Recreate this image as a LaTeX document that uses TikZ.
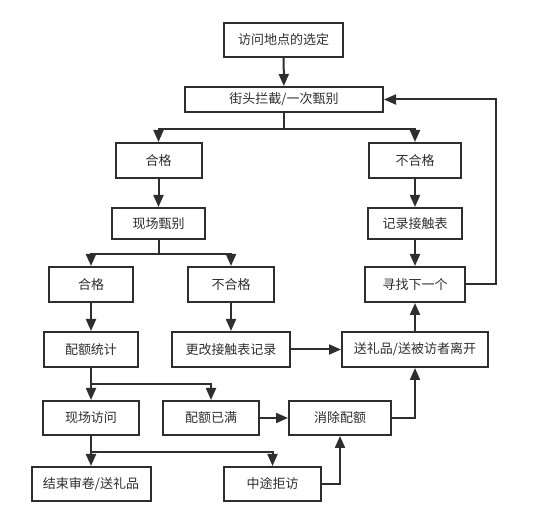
\documentclass[tikz,border=0pt]{standalone}
\usepackage{fontspec}
\setmainfont{Noto Sans CJK SC}
\usetikzlibrary{arrows.meta}
\definecolor{ink}{HTML}{2E2E2E}
\tikzset{
  box/.style={draw=ink, line width=2pt, text=ink, inner sep=0pt, minimum height=35pt,
    font=\fontsize{13}{15}\selectfont},
  conn/.style={draw=ink, line width=2pt, -{Triangle[length=12pt,width=10pt]}},
}
\begin{document}
\begin{tikzpicture}[x=1pt,y=-1pt]
\useasboundingbox (0,0) rectangle (550,526);
\node[box, minimum width=119pt, minimum height=34pt] (top) at (283.5,40) {访问地点的选定};
\node[box, minimum width=198pt, minimum height=25pt] (street) at (284,99.5) {街头拦截/一次甄别};
\node[box, minimum width=86pt] (hege1) at (158.5,160.5) {合格};
\node[box, minimum width=92pt] (buhege1) at (415,160.5) {不合格};
\node[box, minimum width=93pt, minimum height=31pt] (xcjb) at (158.5,223.5) {现场甄别};
\node[box, minimum width=94pt, minimum height=31pt] (jilu) at (415,223.5) {记录接触表};
\node[box, minimum width=84pt] (hege2) at (91,284.5) {合格};
\node[box, minimum width=86pt] (buhege2) at (231,284.5) {不合格};
\node[box, minimum width=100pt] (xunzhao) at (415,284.5) {寻找下一个};
\node[box, minimum width=94pt] (peie) at (91,349.5) {配额统计};
\node[box, minimum width=118pt] (gengai) at (231,349.5) {更改接触表记录};
\node[box, minimum width=146pt] (songli) at (415,349.5) {送礼品/送被访者离开};
\node[box, minimum width=96pt, minimum height=34pt] (xcfw) at (91,418) {现场访问};
\node[box, minimum width=96pt, minimum height=34pt] (man) at (211,418) {配额已满};
\node[box, minimum width=102pt, minimum height=34pt] (xiaochu) at (340,418) {消除配额};
\node[box, minimum width=119pt, minimum height=34pt] (jieshu) at (91,484) {结束审卷/送礼品};
\node[box, minimum width=97pt, minimum height=34pt] (zhongtu) at (272.5,484) {中途拒访};

\draw[conn] (top) -- (street);
\draw[conn] (street.south) -- ++(0,16) -| (hege1.north);
\draw[conn] (street.south) -- ++(0,16) -| (buhege1.north);
\draw[conn] (hege1) -- (xcjb);
\draw[conn] (buhege1) -- (jilu);
\draw[conn] (jilu) -- (xunzhao);
\draw[conn] (xunzhao.east) -- ++(30,0) |- (street.east);
\draw[conn] (xcjb.south) -- ++(0,14) -| (hege2.north);
\draw[conn] (xcjb.south) -- ++(0,14) -| (buhege2.north);
\draw[conn] (hege2) -- (peie);
\draw[conn] (buhege2) -- (gengai);
\draw[conn] (gengai) -- (songli);
\draw[conn] (songli) -- (xunzhao);
\draw[conn] (peie.south) -- ++(0,16) -| (xcfw.north);
\draw[conn] (peie.south) -- ++(0,16) -| (man.north);
\draw[conn] (man) -- (xiaochu);
\draw[conn] (xiaochu.east) -| (songli.south);
\draw[conn] (xcfw.south) -- ++(0,16) -| (jieshu.north);
\draw[conn] (xcfw.south) -- ++(0,16) -| (zhongtu.north);
\draw[conn] (zhongtu.east) -| (xiaochu.south);
\end{tikzpicture}
\end{document}
